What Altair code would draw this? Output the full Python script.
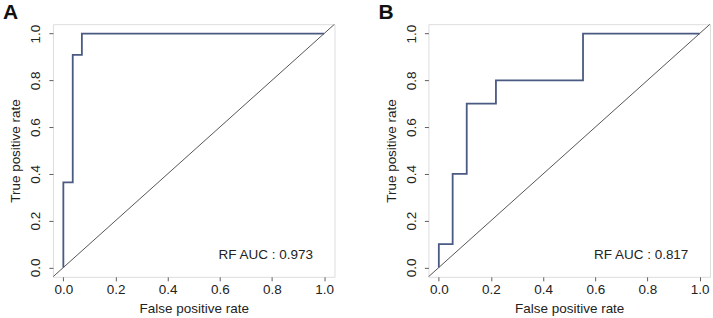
import altair as alt
import pandas as pd

# ROC curve A
fpr_a = [0.0, 0.0, 0.036, 0.036, 0.071, 0.071, 1.0]
tpr_a = [0.0, 0.364, 0.364, 0.909, 0.909, 1.0, 1.0]
# ROC curve B
fpr_b = [0.0, 0.0, 0.053, 0.053, 0.107, 0.107, 0.219, 0.219, 0.553, 0.553, 1.0]
tpr_b = [0.0, 0.1, 0.1, 0.4, 0.4, 0.7, 0.7, 0.8, 0.8, 1.0, 1.0]
# reference diagonal (y = x)
diag = [-0.1, 1.1]
panel_labels = ["A", "B"]
auc_labels = ["RF AUC : 0.973", "RF AUC : 0.817"]
ticks = [0.0, 0.2, 0.4, 0.6, 0.8, 1.0]

FONT = "Liberation Sans"
LINE = "#4a5a82"
GREY = "#5e5e5e"
dom = [-0.04, 1.04]


def panel(fpr, tpr, letter, auc):
    roc = pd.DataFrame({"fpr": fpr, "tpr": tpr, "i": range(len(fpr))})
    dg = pd.DataFrame({"x": diag, "y": diag})
    txt = pd.DataFrame({"x": [0.957], "y": [0.052], "t": [auc]})

    xs = alt.Scale(domain=dom, nice=False, zero=False)
    ys = alt.Scale(domain=dom, nice=False, zero=False)
    xax = alt.Axis(values=ticks, format=".1f", title="False positive rate",
                   domain=False, grid=False, tickSize=4, tickColor=GREY,
                   labelFontSize=13.5, labelFont=FONT, labelColor="#222",
                   labelPadding=2, titleFont=FONT, titleFontSize=13.5,
                   titleFontWeight="normal", titleColor="#222", titlePadding=5)
    yax = alt.Axis(values=ticks, format=".1f", title="True positive rate",
                   domain=False, grid=False, tickSize=4, tickColor=GREY,
                   labelFontSize=13.5, labelFont=FONT, labelColor="#222",
                   labelAngle=-90, labelAlign="center", labelBaseline="bottom",
                   labelPadding=6, titleFont=FONT, titleFontSize=13.5,
                   titleFontWeight="normal", titleColor="#222", titlePadding=6)

    d = alt.Chart(dg).mark_line(color="#555555", strokeWidth=1, clip=True).encode(
        x=alt.X("x:Q", scale=xs, axis=xax),
        y=alt.Y("y:Q", scale=ys, axis=yax),
    )
    r = alt.Chart(roc).mark_line(color=LINE, strokeWidth=1.8).encode(
        x=alt.X("fpr:Q", scale=xs, axis=xax),
        y=alt.Y("tpr:Q", scale=ys, axis=yax),
        order="i:Q",
    )
    t = alt.Chart(txt).mark_text(align="right", baseline="middle", font=FONT,
                                 fontSize=13.5, color="#222").encode(
        x=alt.X("x:Q", scale=xs, axis=xax),
        y=alt.Y("y:Q", scale=ys, axis=yax),
        text="t:N",
    )
    return alt.layer(d, r, t).properties(
        width=282, height=253,
        title=alt.TitleParams(text=letter, anchor="start", frame="group",
                              dx=-50, offset=1,
                              font=FONT, fontSize=21, fontWeight="bold",
                              color="#111"),
    )


chart = alt.hconcat(
    panel(fpr_a, tpr_a, panel_labels[0], auc_labels[0]),
    panel(fpr_b, tpr_b, panel_labels[1], auc_labels[1]),
    spacing=94, bounds="flush",
).properties(
    padding={"left": 2, "top": 1, "right": 2, "bottom": 3},
).configure_view(stroke=GREY, strokeWidth=1).configure(background="white")

chart.save("out.html", embed_options={"renderer": "svg", "actions": False})
